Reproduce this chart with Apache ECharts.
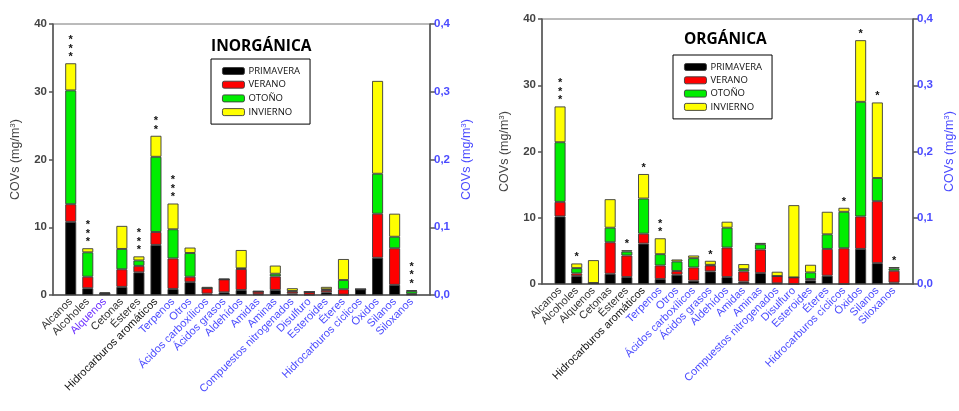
<!DOCTYPE html>
<html>
<head>
<meta charset="utf-8">
<script src="https://cdn.jsdelivr.net/npm/echarts/dist/echarts.min.js"></script>
<style>
html,body{margin:0;padding:0;background:#fff;}
#c{width:959px;height:411px;}
</style>
</head>
<body>
<div id="c"></div>
<script>
// ---------- DATA ----------
const categories = ['Alcanos','Alcoholes','Alquenos','Cetonas','Ésteres','Hidrocarburos aromáticos',
  'Terpenos','Otros','Ácidos carboxílicos','Ácidos grasos','Aldehídos','Amidas','Aminas',
  'Compuestos nitrogenados','Disulfuro','Esteroides','Éteres','Hidrocarburos cíclicos','Óxidos','Silanos','Siloxanos'];
const seasons = ['PRIMAVERA','VERANO','OTOÑO','INVIERNO'];
// first 6 categories in left axis units (0-40), the rest in right axis units (0-0.4)
const leftAxisCount = 6;
const leftTicks = [0, 40, 10];
const rightTicks = [0, 0.4, 0.1];

// INORGÁNICA
const inorgPrimavera = [10.8, 1.0, 0.15, 1.2, 3.35, 7.4,
  0.009, 0.019, 0.002, 0.004, 0.0074, 0.001, 0.0074, 0.002, 0.0005, 0.004, 0.0005, 0.0084, 0.055, 0.015, 0.001];
const inorgVerano = [2.6, 1.7, 0.05, 2.6, 0.95, 1.9,
  0.045, 0.008, 0.008, 0.019, 0.031, 0.004, 0.020, 0.003, 0.004, 0.0034, 0.008, 0, 0.065, 0.054, 0.001];
const inorgOtono = [16.8, 3.6, 0.05, 3.0, 0.8, 11.1,
  0.043, 0.035, 0, 0, 0.001, 0, 0.004, 0.001, 0, 0.001, 0.0136, 0, 0.059, 0.017, 0.004];
const inorgInvierno = [4.0, 0.6, 0.15, 3.4, 0.6, 3.1,
  0.038, 0.008, 0.002, 0.001, 0.027, 0.001, 0.012, 0.004, 0, 0.0036, 0.031, 0, 0.137, 0.034, 0.001];
const inorgStars = ['***','***','','','***','**','***','','','','','','','','','','','','','','***'];

// ORGÁNICA
const orgPrimavera = [10.2, 1.2, 0.15, 1.55, 1.05, 6.1,
  0.0075, 0.014, 0.005, 0.019, 0.0105, 0.0035, 0.0165, 0.001, 0, 0.0055, 0.0125, 0, 0.053, 0.0315, 0.002];
const orgVerano = [2.2, 0.4, 0, 4.75, 3.25, 1.5,
  0.0205, 0.0056, 0.020, 0.009, 0.0445, 0.0155, 0.0355, 0.011, 0.010, 0.002, 0.0405, 0.054, 0.049, 0.0935, 0.018];
const orgOtono = [9.0, 0.8, 0, 2.2, 0.6, 5.3,
  0.017, 0.0144, 0.014, 0.001, 0.030, 0.0035, 0.008, 0, 0, 0.010, 0.022, 0.055, 0.173, 0.035, 0.0035];
const orgInvierno = [5.4, 0.7, 3.45, 4.3, 0.2, 3.7,
  0.024, 0.003, 0.004, 0.006, 0.009, 0.0075, 0.002, 0.0065, 0.109, 0.0115, 0.034, 0.006, 0.093, 0.114, 0.002];
const orgStars = ['***','*','','','*','*','**','','','*','','','','','','','','*','*','*','*'];

const inorgLabelColors = ['#333','#333','#6a2cff','#333','#333','#111'];
const orgLabelColors = ['#333','#333','#333','#333','#333','#111'];
// ---------- STYLE ----------
const seasonColors = ['#000000','#ff0000','#00ee00','#ffff00'];
const blue = '#4b4bff';
const FONT = 'Liberation Sans, Arial, sans-serif';

const chart = echarts.init(document.getElementById('c'));

const panels = [
  {title:'INORGÁNICA', data:[inorgPrimavera,inorgVerano,inorgOtono,inorgInvierno], stars:inorgStars, labelColors:inorgLabelColors,
   frame:{left:53, top:24, width:377, height:271}, bars:{left:62.2, top:24, width:358, height:271},
   titlePos:{left:211, top:39}, legendPos:{left:211, top:59}, legendGap:3.7},
  {title:'ORGÁNICA', data:[orgPrimavera,orgVerano,orgOtono,orgInvierno], stars:orgStars, labelColors:orgLabelColors,
   frame:{left:542, top:19, width:371, height:265}, bars:{left:551.7, top:19, width:350.7, height:265},
   titlePos:{left:684, top:32}, legendPos:{left:673, top:55}, legendGap:3.3}
];

const grid = [], xAxis = [], yAxis = [], series = [], title = [], legend = [];
const nameStyle = (color) => ({fontSize:12.5, color:color, fontFamily:FONT,
  rich:{s:{fontSize:8, lineHeight:8, verticalAlign:'top', color:color, fontFamily:FONT}}});

panels.forEach((p, k) => {
  const gF = grid.length;
  grid.push(Object.assign({show:true, borderColor:'#777', borderWidth:1, backgroundColor:'transparent', containLabel:false}, p.frame));
  const gB = grid.length;
  grid.push(Object.assign({show:false, containLabel:false}, p.bars));

  const xF = xAxis.length;
  xAxis.push({type:'category', gridIndex:gF, data:categories, boundaryGap:true,
    axisLine:{show:true, lineStyle:{color:'#555', width:1.5}}, axisTick:{show:false}, axisLabel:{show:false}, splitLine:{show:false}});
  const xB = xAxis.length;
  xAxis.push({type:'category', gridIndex:gB, data:categories, boundaryGap:true,
    axisLine:{show:false}, axisTick:{show:false}, splitLine:{show:false},
    axisLabel:{show:true, interval:0, rotate:45, margin:5, fontSize:11, fontFamily:FONT,
      color:(v, i) => (i < p.labelColors.length ? p.labelColors[i] : blue)}});

  const yFL = yAxis.length;
  yAxis.push({type:'value', gridIndex:gF, position:'left', min:leftTicks[0], max:leftTicks[1], interval:leftTicks[2],
    name:'COVs (mg/m{s|3})', nameLocation:'middle', nameGap:31, nameTextStyle:nameStyle('#444'),
    axisLine:{show:true, lineStyle:{color:'#555', width:1.5}}, axisTick:{show:true, length:4, lineStyle:{color:'#555', width:1.5}},
    splitLine:{show:false}, axisLabel:{color:'#444', fontSize:11.5, fontWeight:'bold', margin:6, fontFamily:FONT}});
  const yFR = yAxis.length;
  yAxis.push({type:'value', gridIndex:gF, position:'right', min:rightTicks[0], max:rightTicks[1], interval:rightTicks[2],
    name:'COVs (mg/m{s|3})', nameLocation:'middle', nameGap:30, nameTextStyle:nameStyle(blue),
    axisLine:{show:true, lineStyle:{color:'#555', width:1.5}}, axisTick:{show:true, length:5, lineStyle:{color:'#555', width:1.5}},
    splitLine:{show:false}, axisLabel:{color:blue, fontSize:11.5, fontWeight:'bold', margin:4, fontFamily:FONT,
      formatter:v => v.toFixed(1).replace('.', ',')}});
  const yBL = yAxis.length;
  yAxis.push({type:'value', gridIndex:gB, show:false, min:leftTicks[0], max:leftTicks[1], interval:leftTicks[2]});
  const yBR = yAxis.length;
  yAxis.push({type:'value', gridIndex:gB, show:false, min:rightTicks[0], max:rightTicks[1], interval:rightTicks[2]});

  seasons.forEach((s, j) => {
    const vals = p.data[j];
    const isTop = j === seasons.length - 1;
    const mk = (side) => ({
      name:s, type:'bar', xAxisIndex:xB, yAxisIndex: side === 'L' ? yBL : yBR,
      stack:'p' + k + side, barWidth:11, barGap:'-100%',
      itemStyle:{color:seasonColors[j], borderColor:'#3a3a3a', borderWidth:0.9},
      data: vals.map((v, i) => (side === 'L' ? (i < leftAxisCount ? v : '-') : (i >= leftAxisCount ? v : '-'))),
      label: isTop ? {show:true, position:'top', distance:2, fontSize:11, fontWeight:'bold', lineHeight:8.5, color:'#111', fontFamily:FONT,
        formatter: prm => p.stars[prm.dataIndex].split('').join('\n')} : {show:false},
      emphasis:{disabled:true}, animation:false
    });
    series.push(mk('L'));
    series.push(mk('R'));
  });

  title.push({text:p.title, left:p.titlePos.left, top:p.titlePos.top, padding:0,
    textStyle:{fontSize:15.5, fontWeight:'bold', color:'#000', fontFamily:'Open Sans, sans-serif'}});
  legend.push({data:seasons, orient:'vertical', left:p.legendPos.left, top:p.legendPos.top,
    itemWidth:22, itemHeight:7, itemGap:p.legendGap, selectedMode:false,
    borderColor:'#000', borderWidth:1, padding:[7, 10, 7, 11], backgroundColor:'#fff',
    textStyle:{fontSize:9.5, lineHeight:10, color:'#111', fontFamily:'Open Sans, sans-serif', padding:[0,0,0,-1]},
    itemStyle:{borderColor:'#3a3a3a', borderWidth:0.9}});
});

chart.setOption({animation:false, textStyle:{fontFamily:FONT}, grid, xAxis, yAxis, series, title, legend});
</script>
</body>
</html>
